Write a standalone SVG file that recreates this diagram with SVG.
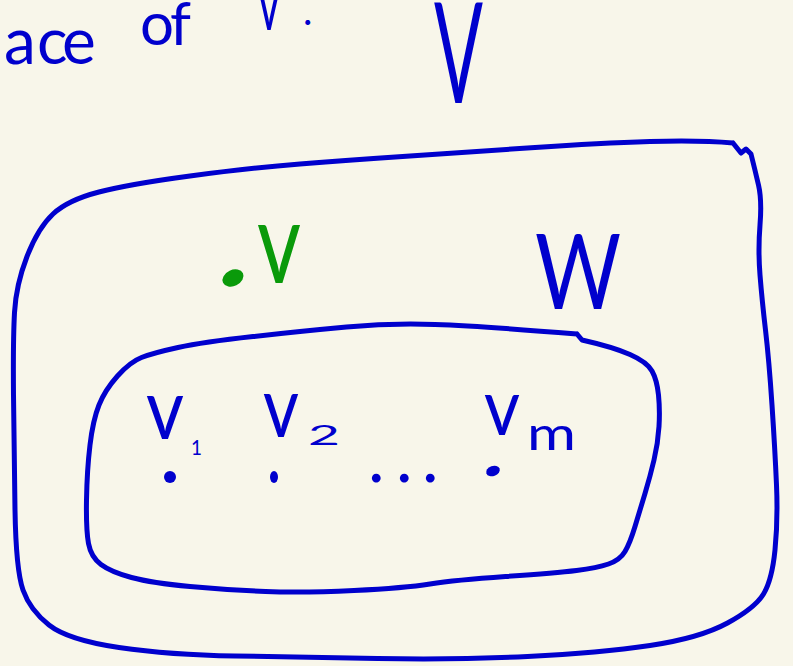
<svg xmlns="http://www.w3.org/2000/svg" width="793" height="666" viewBox="0 0 793 666">
<style>
.set{fill:none;stroke:#0000cd;stroke-width:5;stroke-linecap:round;stroke-linejoin:round}
.b{fill:#0000cd;font-family:Lato,"Liberation Sans",sans-serif;font-weight:400}
.g{fill:#0a9a0a;font-family:Lato,"Liberation Sans",sans-serif;font-weight:400}
.pt{fill:#0000cd}
</style>
<rect width="793" height="666" fill="#f8f6ea"/>
<g id="caption">
<text class="b" font-size="64" y="64" x="-78 -42 4 37 62">space</text>
<text class="b" font-size="60" y="45" x="140 170">of</text>
<text class="b" font-size="70" x="256" y="30" textLength="26" lengthAdjust="spacingAndGlyphs">V</text>
<text class="b" font-size="40" x="303" y="25">.</text>
</g>
<g id="set-V">
<path class="set" d="M733,143 L741,153 L746,149 L751,154 Q755,170 758.5,185 Q762,200 760,225 Q758,250 760,275 Q762,300 765.5,330 Q769,360 772,405 Q775,450 776.5,485 Q778,520 775,550 Q772,580 763.5,594 Q755,608 727.5,623 Q700,638 650,645.5 Q600,653 527.5,656.5 Q455,660 377.5,658.5 Q300,657 235,656 Q170,655 119,647.5 Q68,640 49,625 Q30,610 23,590 Q16,570 15,510 Q14,450 13.5,395 Q13,340 14.5,312.5 Q16,285 27,256.5 Q38,228 53,214 Q68,200 99,192 Q130,184 190,176 Q250,168 300,164 Q350,160 410,156 Q470,152 535,147.5 Q600,143 650,141.5 Q700,140 733,143"/>
<text class="b" font-size="140" x="434" y="103" textLength="49" lengthAdjust="spacingAndGlyphs">V</text>
</g>
<g id="set-W">
<path class="set" d="M577,334 L582,340 Q613,347 630,354.5 Q647,362 652,371 Q657,380 658.5,395 Q660,410 659,426.5 Q658,443 654,460 Q650,477 645,493.5 Q640,510 635,526.5 Q630,543 625,551.5 Q620,560 608.5,564 Q597,568 576.5,570.5 Q556,573 505.5,576.5 Q455,580 430,584 Q405,588 354,590.5 Q303,593 265.5,591.5 Q228,590 190,586.5 Q152,583 131.5,577.5 Q111,572 101,564.5 Q91,557 88.5,543.5 Q86,530 86.5,500 Q87,470 90,445 Q93,420 99,405 Q105,390 117.5,376 Q130,362 141.5,357.5 Q153,353 178,347.5 Q203,342 253,336.5 Q303,331 346.5,327 Q390,323 435,324.5 Q480,326 577,334"/>
<text class="b" font-size="104" x="535" y="309" textLength="86" lengthAdjust="spacingAndGlyphs">W</text>
</g>
<g id="point-v">
<ellipse cx="233" cy="278" rx="11" ry="8" transform="rotate(-25 233 278)" fill="#0a9a0a"/>
<text class="g" font-size="114" x="257" y="283" textLength="44" lengthAdjust="spacingAndGlyphs">v</text>
</g>
<g id="point-v1">
<ellipse class="pt" cx="170" cy="477" rx="6" ry="6"/>
<text class="b" font-size="86" x="146" y="439" textLength="38" lengthAdjust="spacingAndGlyphs">v</text>
<text class="b" font-size="22" x="191" y="455" textLength="11" lengthAdjust="spacingAndGlyphs">1</text>
</g>
<g id="point-v2">
<ellipse class="pt" cx="274" cy="477" rx="4" ry="6"/>
<text class="b" font-size="86" x="263" y="437" textLength="36" lengthAdjust="spacingAndGlyphs">v</text>
<text class="b" font-size="26" x="308" y="445" textLength="32" lengthAdjust="spacingAndGlyphs">2</text>
</g>
<g id="ellipsis">
<text class="b" font-size="70" y="482" x="368 396 422">...</text>
</g>
<g id="point-vm">
<ellipse class="pt" cx="493" cy="471" rx="7" ry="5" transform="rotate(-20 493 471)"/>
<text class="b" font-size="80" x="484" y="435" textLength="36" lengthAdjust="spacingAndGlyphs">v</text>
<text class="b" font-size="46" x="527" y="450" textLength="49" lengthAdjust="spacingAndGlyphs">m</text>
</g>
<g id="connectors"/>
</svg>
